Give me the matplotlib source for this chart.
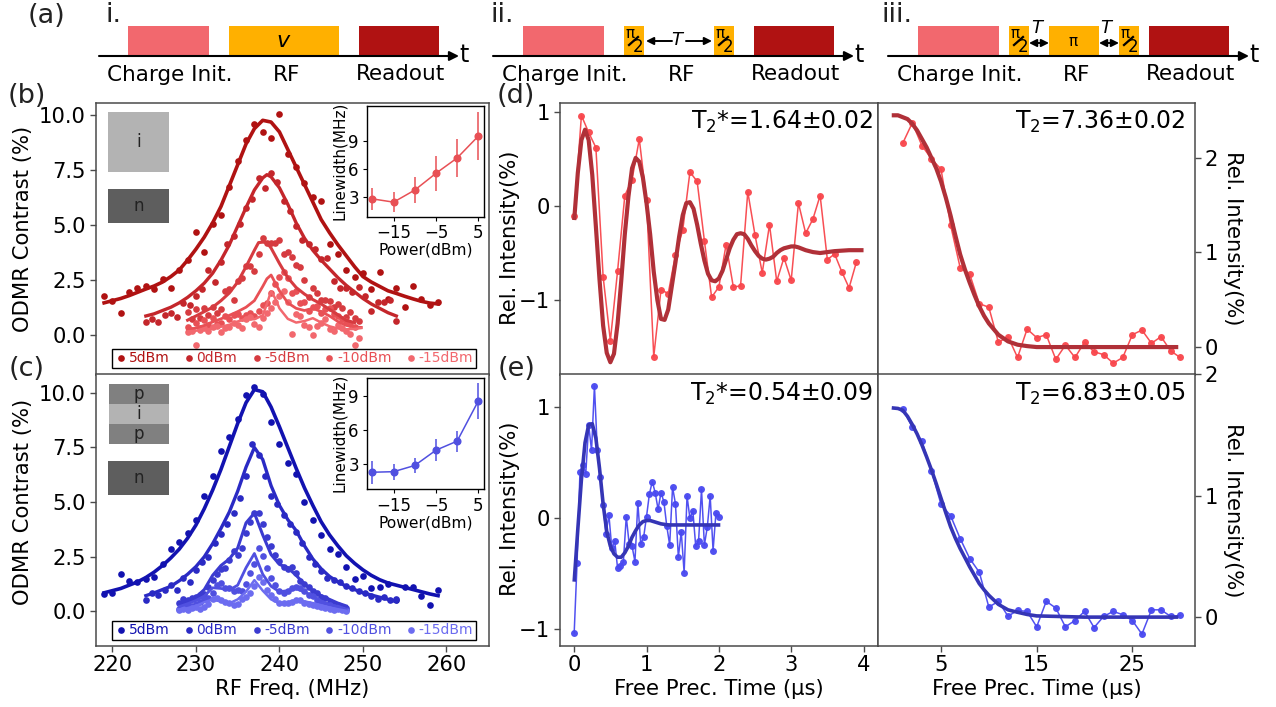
import numpy as np
import matplotlib
matplotlib.use("Agg")
import matplotlib.pyplot as plt
from matplotlib.patches import Rectangle

W, H = 1276, 707
power_labels = ["5dBm", "0dBm", "-5dBm", "-10dBm", "-15dBm"]
reds = ["#B01212", "#C4262B", "#D63B40", "#E85055", "#F2686E"]
blues = ["#1212B0", "#2A2AC4", "#3B3BD0", "#5050E0", "#6C6CF0"]
inset_power = [-20, -15, -10, -5, 0, 5]

# panel (b) points
b_p5 = [1.77,1.54,1.0,1.94,2.15,2.24,2.1,2.53,2.13,2.96,3.41,4.7,3.75,5.06,5.47,6.73,7.92,8.9,9.62,9.23,8.96,10.09,8.25,7.63,6.92,6.28,6.11,4.14,3.67,2.96,2.65,2.79,2.09,2.84,1.62,2.12,1.28,2.23,1.62,1.36,1.48]
b_p0 = [0.58,0.72,0.58,0.9,0.98,0.82,1.46,1.35,1.74,2.1,2.96,2.41,3.3,4.14,4.48,5.04,5.8,6.2,7.16,6.7,7.36,6.95,6.08,5.65,4.97,4.33,4.14,3.9,3.45,3.5,2.45,2.15,2.13,1.96,2.19,1.74,1.1,1.49,1.49,1.58,0.64]
b_p_5 = [1.05,0.7,1.17,0.75,1.2,0.9,1.25,1.0,1.15,2.0,2.1,1.6,2.45,2.6,3.14,3.15,2.92,3.7,4.43,4.2,4.2,4.2,4.33,3.7,3.75,3.54,3.18,3.1,2.5,1.73,2.12,1.9,1.6,1.6,1.55,1.25,1.4,1.2,0.8,1.05,0.75,0.6]
b_p_10 = [0.35,0.2,0.55,0.3,0.65,0.45,0.75,0.5,0.55,0.85,0.7,0.9,0.95,0.75,0.9,1.0,0.85,1.1,1.35,1.45,1.9,2.3,2.65,2.88,2.6,1.9,2.0,1.45,1.5,1.1,1.25,1.3,1.0,1.15,1.2,0.95,0.85,0.7,0.6,0.5,0.35]
b_p_15 = [0.1,0.15,-0.47,0.2,0.3,0.15,0.35,0.4,0.1,0.3,0.35,0.55,0.45,0.3,0.7,0.8,0.5,0.35,0.75,1.0,1.2,1.5,1.75,2.0,1.5,0.03,0.95,0.85,0.45,0.35,-0.04,0.4,0.55,0.7,0.25,0.15,0.45,0.3,0.15,0.05,-0.47,-0.17]
b_p_x0 = [219, 224, 229, 229, 229]
b_p_dx = [1.0, 0.75, 0.5, 0.5, 0.5]

# panel (b) fits
b_fx5 = list(range(219, 260))
b_f5 = [1.45,1.55,1.65,1.78,1.93,2.08,2.22,2.4,2.65,2.95,3.4,3.9,4.45,5.1,5.85,6.8,7.75,8.7,9.4,9.78,9.7,9.25,8.45,7.65,6.85,6.05,5.25,4.65,4.1,3.6,3.1,2.65,2.4,2.2,2.0,1.88,1.75,1.63,1.52,1.44,1.4]
b_fx0 = [224,225,226,227,228,229,230,231,232,233,234,235,236,237,238,238.5,239,240,241,242,243,244,245,246,247,248,249,250,251,252,253,254]
b_f0 = [0.85,0.95,1.1,1.25,1.45,1.7,2.0,2.35,2.8,3.4,4.1,4.95,5.8,6.6,7.15,7.3,7.2,6.7,5.95,5.1,4.4,3.85,3.4,3.0,2.6,2.25,1.95,1.65,1.4,1.2,1.0,0.85]
b_fx_5 = [229,230,231,232,233,234,235,236,237,237.5,238,238.5,239,240,241,242,243,244,245,246,247,248,249]
b_f_5 = [0.66,0.85,1.05,1.25,1.55,1.9,2.4,3.1,3.85,4.2,4.22,4.2,3.95,3.25,2.6,2.15,1.85,1.6,1.4,1.15,0.9,0.65,0.55]
b_fx_10 = [229,230,231,232,233,234,235,236,237,238,238.5,239,240,241,242,243,244,245,246,247,248,249,249.8]
b_f_10 = [0.22,0.3,0.42,0.58,0.72,0.88,1.05,1.25,1.55,2.2,2.55,2.72,2.0,1.45,1.2,1.1,1.2,1.05,0.85,0.6,0.42,0.35,0.33]
b_fx_15 = [229,230,231,232,233,234,235,236,237,238,238.5,239,239.5,240,241,242,243,244,245,246,247,248,249,249.8]
b_f_15 = [0.15,0.18,0.22,0.28,0.36,0.45,0.6,0.72,0.7,0.88,1.4,1.98,1.65,1.2,0.72,0.55,0.62,0.75,0.55,0.38,0.28,0.24,0.26,0.3]

# panel (c) points
c_p5 = [0.8,0.85,1.72,1.39,1.33,1.48,1.59,2.17,2.85,3.19,3.6,4.2,5.3,6.18,7.32,7.99,8.8,9.88,10.28,9.95,8.68,7.66,6.8,6.27,4.99,4.2,3.49,2.85,2.64,2.01,1.48,1.62,1.07,1.12,1.25,0.52,1.12,1.12,0.72,0.31,0.98]
c_p0 = [0.5,0.85,0.75,1.0,1.2,0.96,1.55,1.35,1.9,2.25,2.5,3.15,3.55,4.0,4.5,5.2,6.2,7.68,7.15,6.2,5.3,4.9,4.4,4.0,3.65,3.15,2.5,2.15,1.85,1.55,1.45,1.35,1.15,1.05,0.95,0.85,0.7,0.55,0.65,0.5,0.55]
c_p_5 = [0.4,0.55,0.5,0.6,0.65,0.75,0.8,1.1,1.45,1.7,1.95,2.0,2.35,2.75,2.6,2.9,3.6,4.1,4.5,4.5,4.0,3.4,3.0,2.6,2.3,2.05,1.95,2.05,1.75,1.4,1.25,1.1,0.95,0.85,0.65,0.6,0.45,0.35,0.3,0.2,0.15]
c_p_10 = [0.1,0.2,0.3,0.25,0.35,0.45,0.55,0.6,0.85,1.2,1.3,1.05,1.05,0.95,1.0,0.95,1.25,1.75,2.15,2.88,2.55,2.0,1.55,1.2,0.95,0.85,0.95,1.05,1.1,1.05,0.95,0.75,0.7,0.5,0.4,0.3,0.3,0.2,0.2,0.1,0.05]
c_p_15 = [0.05,0.1,0.05,0.15,0.2,0.1,0.2,0.35,0.55,0.6,0.5,0.45,0.4,0.3,0.35,0.55,0.65,0.85,1.15,1.58,1.35,1.0,0.75,0.55,0.4,0.4,0.4,0.45,0.5,0.5,0.4,0.35,0.3,0.25,0.2,0.15,0.1,0.05,0.1,0.05,0.03]
c_p_x0 = [219, 224, 228, 228, 228]
c_p_dx = [1.0, 0.75, 0.5, 0.5, 0.5]

# panel (c) fits
c_fx5 = list(range(219, 260))
c_f5 = [0.85,0.95,1.05,1.2,1.35,1.55,1.8,2.1,2.45,2.85,3.35,3.95,4.7,5.55,6.5,7.55,8.6,9.55,10.15,10.05,9.35,8.45,7.5,6.55,5.65,4.85,4.1,3.5,3.0,2.55,2.2,1.9,1.65,1.45,1.3,1.2,1.1,1.0,0.9,0.8,0.72]
c_fx0 = list(range(224, 255))
c_f0 = [0.72,0.85,1.0,1.15,1.4,1.7,2.05,2.5,3.1,3.8,4.55,5.5,6.6,7.5,6.95,5.75,4.85,4.2,3.7,3.0,2.4,1.95,1.6,1.35,1.15,1.0,0.85,0.75,0.65,0.55,0.45]
c_fx_low = list(range(228, 249))
c_f_5 = [0.35,0.42,0.65,1.0,1.65,2.1,2.4,2.9,4.05,4.5,3.5,2.6,2.15,2.0,1.65,1.25,0.95,0.72,0.55,0.38,0.25]
c_f_10 = [0.22,0.35,0.5,0.7,1.08,1.05,0.98,1.2,2.0,2.65,1.7,1.15,0.9,0.95,1.05,0.9,0.68,0.48,0.32,0.2,0.1]
c_f_15 = [0.07,0.15,0.25,0.42,0.55,0.45,0.37,0.55,0.9,1.43,0.95,0.55,0.37,0.42,0.52,0.46,0.38,0.28,0.18,0.1,0.03]

# linewidth insets
b_lw = [2.75, 2.4, 3.7, 5.5, 7.15, 9.5]
b_lw_err = [1.18, 1.07, 1.4, 1.86, 2.05, 2.6]
c_lw = [2.25, 2.3, 2.85, 4.2, 5.0, 8.55]
c_lw_err = [1.0, 0.7, 0.7, 1.0, 0.93, 1.6]

# panel (d) Ramsey
d_x_step = 0.1
d_y = [-0.106,0.96,0.78,0.62,-0.75,-1.43,-0.69,0.11,0.28,0.71,0.06,-1.6,-0.89,-0.93,-0.52,-0.26,0.36,0.26,-0.37,-0.97,-0.86,-0.41,-0.86,-0.85,0.15,-0.31,-0.71,-0.2,-0.8,-0.55,-0.79,0.03,-0.29,-0.14,0.11,-0.57,-0.51,-0.7,-0.87,-0.6]
d_fx = [0,.05,.1,.15,.2,.25,.3,.35,.4,.45,.5,.55,.6,.65,.7,.75,.8,.85,.9,.95,1.0,1.05,1.1,1.15,1.2,1.25,1.3,1.35,1.4,1.45,1.5,1.55,1.6,1.65,1.7,1.75,1.8,1.85,1.9,1.95,2.0,2.05,2.1,2.15,2.2,2.25,2.3,2.35,2.4,2.45,2.5,2.55,2.6,2.65,2.7,2.75,2.8,2.85,2.9,2.95,3.0,3.05,3.1,3.2,3.3,3.4,3.5,3.6,3.8,4.0]
d_fy = [-0.15,0.35,0.7,0.81,0.7,0.33,-0.22,-0.78,-1.27,-1.56,-1.66,-1.57,-1.25,-0.8,-0.3,0.1,0.4,0.51,0.47,0.3,0.03,-0.3,-0.7,-1.0,-1.2,-1.21,-1.1,-0.85,-0.6,-0.33,-0.1,0.03,0.04,-0.03,-0.2,-0.4,-0.58,-0.72,-0.79,-0.8,-0.77,-0.69,-0.57,-0.45,-0.36,-0.3,-0.29,-0.3,-0.35,-0.42,-0.48,-0.53,-0.56,-0.57,-0.56,-0.54,-0.5,-0.47,-0.45,-0.44,-0.43,-0.43,-0.44,-0.47,-0.49,-0.5,-0.49,-0.48,-0.47,-0.47]

# panel (e) Ramsey
e_x_step = 0.04
e_y = [-1.03,-0.40,0.42,0.48,0.40,0.84,0.61,1.19,0.61,0.37,0.12,-0.14,0.03,-0.27,-0.20,-0.45,-0.43,-0.39,0.015,-0.23,-0.25,-0.39,0.14,-0.23,-0.17,0.015,0.22,0.33,0.23,0.08,0.23,0.15,-0.07,-0.24,0.28,0.13,-0.35,-0.12,-0.49,0.2,0.0,0.07,-0.25,-0.2,0.26,-0.24,-0.08,0.2,-0.29,0.05,0.01]
e_fx = [0,.05,.1,.15,.2,.25,.3,.35,.4,.45,.5,.55,.6,.65,.7,.75,.8,.85,.9,.95,1.0,1.05,1.1,1.15,1.2,1.3,1.5,2.02]
e_fy = [-0.57,-0.1,0.35,0.68,0.84,0.85,0.72,0.45,0.13,-0.12,-0.25,-0.32,-0.35,-0.35,-0.31,-0.25,-0.17,-0.11,-0.06,-0.03,-0.02,-0.02,-0.03,-0.04,-0.05,-0.06,-0.06,-0.06]

# echo panels
t2_x = list(range(1, 31))
t2r_y = [2.155,2.37,2.13,1.99,1.88,1.29,0.84,0.77,0.46,0.42,0.05,0.11,-0.11,0.19,0.10,0.13,-0.13,0.02,-0.11,0.05,-0.05,-0.08,-0.17,-0.11,0.13,0.18,0.04,0.11,-0.04,-0.11]
t2b_y = [1.716,1.565,1.45,1.206,0.93,0.836,0.648,0.483,0.37,0.083,0.13,0.008,0.055,0.047,-0.08,0.13,0.075,-0.08,-0.028,0.047,-0.086,0.006,0.047,0.02,-0.028,-0.14,0.06,0.06,0.006,0.014]
t2_fx = [-0.15,0.5,1,1.5,2,2.5,3,3.5,4,4.5,5,5.5,6,6.5,7,7.5,8,8.5,9,9.5,10,11,12,13,14,15,20,25,29.8]
t2r_fy = [2.45,2.45,2.43,2.41,2.36,2.29,2.2,2.11,2.0,1.89,1.75,1.58,1.39,1.18,0.98,0.82,0.68,0.55,0.43,0.33,0.25,0.13,0.06,0.025,0.01,0.0,0.0,0.0,0.0]
t2b_fy = [1.725,1.72,1.705,1.655,1.587,1.51,1.42,1.32,1.214,1.1,0.98,0.86,0.745,0.65,0.565,0.49,0.414,0.345,0.276,0.225,0.18,0.105,0.06,0.04,0.022,0.01,0.0,0.0,0.0]

fig = plt.figure(figsize=(W/100, H/100), dpi=100)
FRAME = "#4a4a4a"
TS = 15.2
BIG = 17

def axpx(l, t, r, b, **kw):
    return fig.add_axes([l/W, 1-b/H, (r-l)/W, (b-t)/H], **kw)

def style(ax, size=TS):
    for s in ax.spines.values():
        s.set_color(FRAME); s.set_linewidth(1.1)
    ax.tick_params(labelsize=size, color=FRAME, length=4, width=1, pad=3)

def odmr(ax, pts, x0s, dxs, fits, colors):
    for p, x0, dx, lab, c in zip(pts, x0s, dxs, power_labels, colors):
        ax.plot(x0 + dx*np.arange(len(p)), p, "o", ms=4.8, mec="none", color=c, label=lab, zorder=3)
    for (fx, fy), c, lw in zip(fits, colors, [2.6, 2.4, 2.2, 2.0, 1.8]):
        ax.plot(fx, fy, "-", color=c, lw=lw, zorder=4)

def legend(ax, cy):
    leg = ax.legend(loc="center", bbox_to_anchor=(294/W, 1-cy/H), bbox_transform=fig.transFigure,
                    ncol=5, fancybox=False, edgecolor="black", framealpha=1, fontsize=10,
                    labelcolor="linecolor", handletextpad=0.1, columnspacing=0.95, borderpad=0.18,
                    handlelength=0.9, markerscale=1.0, borderaxespad=0)
    leg.get_frame().set_linewidth(1)

def inset(l, t, r, b, ys, errs, color, ylim):
    a = axpx(l, t, r, b)
    a.errorbar(inset_power, ys, yerr=errs, fmt="-o", color=color, ms=4.8, lw=1.1, elinewidth=1.1)
    a.set_xlim(-21.4, 6.34); a.set_ylim(*ylim)
    a.set_xticks([-15, -5, 5]); a.set_yticks([3, 6, 9])
    a.tick_params(labelsize=12, length=3, width=0.8, pad=2.5)
    for s in a.spines.values():
        s.set_color("black"); s.set_linewidth(1)
    a.set_xlabel("Power(dBm)", fontsize=11.2, labelpad=0.5)
    a.set_ylabel("Linewidth(MHz)", fontsize=11, labelpad=1)
    return a

# (b)
ax_b = axpx(95.5, 103, 489, 374.5); style(ax_b)
odmr(ax_b, [b_p5, b_p0, b_p_5, b_p_10, b_p_15], b_p_x0, b_p_dx,
     [(b_fx5, b_f5), (b_fx0, b_f0), (b_fx_5, b_f_5), (b_fx_10, b_f_10), (b_fx_15, b_f_15)], reds)
ax_b.set_xlim(217.97, 265.1); ax_b.set_ylim(-1.82, 10.57)
ax_b.set_yticks([0, 2.5, 5, 7.5, 10]); ax_b.set_yticklabels(["0.0", "2.5", "5.0", "7.5", "10.0"])
ax_b.set_xticks([])
ax_b.set_ylabel("ODMR Contrast (%)", fontsize=TS)
ax_b.yaxis.set_label_coords((33-95.5)/393.5, 0.537)
legend(ax_b, 358.5)

# (c)
ax_c = axpx(95.5, 374.5, 489, 645.5); style(ax_c)
odmr(ax_c, [c_p5, c_p0, c_p_5, c_p_10, c_p_15], c_p_x0, c_p_dx,
     [(c_fx5, c_f5), (c_fx0, c_f0), (c_fx_low, c_f_5), (c_fx_low, c_f_10), (c_fx_low, c_f_15)], blues)
ax_c.set_xlim(217.97, 265.1); ax_c.set_ylim(-1.56, 10.84)
ax_c.set_yticks([0, 2.5, 5, 7.5, 10]); ax_c.set_yticklabels(["0.0", "2.5", "5.0", "7.5", "10.0"])
ax_c.set_xticks([220, 230, 240, 250, 260])
ax_c.set_xlabel("RF Freq. (MHz)", fontsize=TS, labelpad=3)
ax_c.set_ylabel("ODMR Contrast (%)", fontsize=TS)
ax_c.yaxis.set_label_coords((33-95.5)/393.5, 0.53)
legend(ax_c, 630.5)

inset(366.5, 105.5, 484, 216.5, b_lw, b_lw_err, "#E85055", (0.857, 12.79))
inset(366.5, 377.5, 484, 489, c_lw, c_lw_err, "#5050E0", (0.77, 10.62))

def decay(ax, x, y, fx, fy, c_data, c_fit, lw):
    ax.plot(x, y, "-o", color=c_data, lw=1.1, ms=5, mec="none", alpha=0.95)
    ax.plot(fx, fy, "-", color=c_fit, lw=lw, solid_capstyle="butt")

# (d)
ax_d = axpx(559.5, 103, 878, 374.5); style(ax_d)
decay(ax_d, d_x_step*np.arange(len(d_y)), d_y, d_fx, d_fy, "#F8454B", "#B03038", 3.0)
ax_d.set_xlim(-0.203, 4.2); ax_d.set_ylim(-1.79, 1.093)
ax_d.set_xticks([]); ax_d.set_yticks([-1, 0, 1])
ax_d.set_ylabel("Rel. Intensity(%)", fontsize=TS)
ax_d.yaxis.set_label_coords((520-559.5)/318.5, 0.505)
ax_d.text(0.985, 0.93, r"T$_2$*=1.64±0.02", transform=ax_d.transAxes, ha="right", va="center", fontsize=BIG)

# (e)
ax_e = axpx(559.5, 374.5, 878, 645.5); style(ax_e)
decay(ax_e, e_x_step*np.arange(len(e_y)), e_y, e_fx, e_fy, "#4848F0", "#3535B5", 2.6)
ax_e.set_xlim(-0.203, 4.2); ax_e.set_ylim(-1.144, 1.293)
ax_e.set_xticks([0, 1, 2, 3, 4]); ax_e.set_yticks([-1, 0, 1])
ax_e.set_xlabel("Free Prec. Time (μs)", fontsize=TS, labelpad=3)
ax_e.set_ylabel("Rel. Intensity(%)", fontsize=TS)
ax_e.yaxis.set_label_coords((520-559.5)/318.5, 0.504)
ax_e.text(0.985, 0.93, r"T$_2$*=0.54±0.09", transform=ax_e.transAxes, ha="right", va="center", fontsize=BIG)

# echo top
ax_r = axpx(878, 103, 1195, 374.5); style(ax_r)
decay(ax_r, t2_x, t2r_y, t2_fx, t2r_fy, "#F8454B", "#B03038", 3.0)
ax_r.set_xlim(-1.587, 31.55); ax_r.set_ylim(-0.29, 2.58)
ax_r.set_xticks([]); ax_r.set_yticks([0, 1, 2]); ax_r.yaxis.tick_right()
ax_r.yaxis.set_label_position("right")
ax_r.set_ylabel("Rel. Intensity(%)", fontsize=TS, rotation=270, va="center")
ax_r.yaxis.set_label_coords((1233-878)/317, 0.503)
ax_r.text(0.97, 0.93, r"T$_2$=7.36±0.02", transform=ax_r.transAxes, ha="right", va="center", fontsize=BIG)

# echo bottom
ax_s = axpx(878, 374.5, 1195, 645.5); style(ax_s)
decay(ax_s, t2_x, t2b_y, t2_fx, t2b_fy, "#4848F0", "#3535B5", 2.6)
ax_s.set_xlim(-1.587, 31.55); ax_s.set_ylim(-0.234, 2.0)
ax_s.set_xticks([5, 15, 25]); ax_s.set_yticks([0, 1, 2]); ax_s.yaxis.tick_right()
ax_s.yaxis.set_label_position("right")
ax_s.set_xlabel("Free Prec. Time (μs)", fontsize=TS, labelpad=3)
ax_s.set_ylabel("Rel. Intensity(%)", fontsize=TS, rotation=270, va="center")
ax_s.yaxis.set_label_coords((1233-878)/317, 0.50)
ax_s.text(0.97, 0.93, r"T$_2$=6.83±0.05", transform=ax_s.transAxes, ha="right", va="center", fontsize=BIG)

# overlay in pixel coordinates for the schematic parts
ov = fig.add_axes([0, 0, 1, 1], zorder=20)
ov.set_xlim(0, W); ov.set_ylim(H, 0); ov.axis("off")

C_CHG, C_RF, C_RD = "#F2686E", "#FFB000", "#B01212"

def box(x0, x1, c, y0=26, y1=56):
    ov.add_patch(Rectangle((x0, y0), x1-x0, y1-y0, fc=c, ec="none"))

def base(off, x_start):
    box(128+off, 209+off, C_CHG)
    box(359+off, 439+off, C_RD)
    ov.annotate("", xy=(459+off, 56), xytext=(x_start, 56),
                arrowprops=dict(arrowstyle="-|>", color="black", lw=1.5, shrinkA=0, shrinkB=0, mutation_scale=14))
    ov.text(464.5+off, 54.5, "t", fontsize=BIG, ha="center", va="center")
    ov.text(170+off, 75, "Charge Init.", fontsize=15.5, ha="center", va="center")
    ov.text(287+off, 75, "RF", fontsize=15.5, ha="center", va="center")
    ov.text(400.5+off, 74, "Readout", fontsize=15.5, ha="center", va="center")

def half_pi(x0):
    box(x0, x0+20, C_RF)
    ov.text(x0+6, 33.5, "π", fontsize=11, ha="center", va="center")
    ov.plot([x0+5, x0+14], [45, 37], color="black", lw=1.6)
    ov.text(x0+14.5, 47.5, "2", fontsize=12, ha="center", va="center")

def arrow(x0, x1, y, style_="-|>"):
    ov.annotate("", xy=(x1, y), xytext=(x0, y),
                arrowprops=dict(arrowstyle=style_, color="black", lw=1.4, shrinkA=0, shrinkB=0, mutation_scale=11))

base(0, 99)
box(229, 339, C_RF)
ov.text(284, 41, "$v$", fontsize=16, ha="center", va="center")

base(395, 493)
half_pi(624); half_pi(714)
arrow(672, 646, 41); arrow(686, 712, 41)
ov.text(678, 40, "$T$", fontsize=13, ha="center", va="center")

base(790, 888)
half_pi(1009); half_pi(1119)
box(1049, 1099, C_RF)
ov.text(1073, 42, "π", fontsize=11, ha="center", va="center")
for x0, x1 in [(1029, 1049), (1099, 1119)]:
    arrow(x0, x1, 43, "<|-|>")
ov.text(1038, 28, "$T$", fontsize=13, ha="center", va="center")
ov.text(1107, 28, "$T$", fontsize=13, ha="center", va="center")

for lab, x, y in [("(a)", 46, 16), ("i.", 113, 15), ("ii.", 502, 15), ("iii.", 897, 15),
                  ("(b)", 27, 96), ("(c)", 27, 369), ("(d)", 516, 96), ("(e)", 517, 369)]:
    ov.text(x, y, lab, fontsize=19.5, ha="center", va="center", color="#222222")

# device stacks
for x0, x1, y0, y1, c, lab in [(108, 169, 112, 172, "#B3B3B3", "i"), (108, 169, 189, 223, "#5E5E5E", "n"),
                                (109, 169, 384, 404, "#808080", "p"), (109, 169, 404, 424, "#B3B3B3", "i"),
                                (109, 169, 424, 444, "#808080", "p"), (108, 169, 461, 495, "#5E5E5E", "n")]:
    ov.add_patch(Rectangle((x0, y0), x1-x0, y1-y0, fc=c, ec="none"))
    ov.text((x0+x1)/2, (y0+y1)/2, lab, fontsize=12, ha="center", va="center", color="#222222")

fig.savefig("out.png", dpi=100)
